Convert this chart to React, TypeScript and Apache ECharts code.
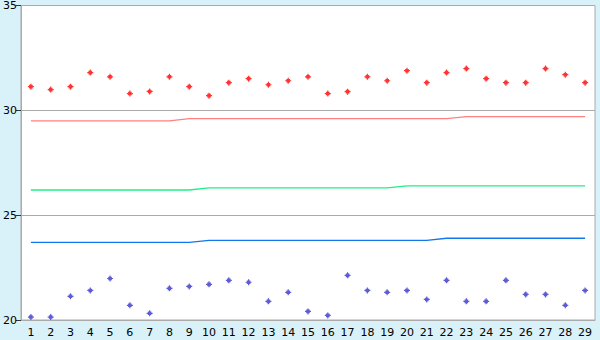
import React, { useEffect, useRef } from "react";
import * as echarts from "echarts";

const categories = ["1","2","3","4","5","6","7","8","9","10","11","12","13","14","15","16","17","18","19","20","21","22","23","24","25","26","27","28","29"];

const redPoints = [31.13, 30.99, 31.13, 31.8, 31.6, 30.8, 30.9, 31.6, 31.13, 30.7, 31.32, 31.51, 31.22, 31.41, 31.6, 30.8, 30.89, 31.6, 31.41, 31.89, 31.32, 31.8, 31.99, 31.51, 31.32, 31.32, 31.99, 31.7, 31.32];
const bluePoints = [20.14, 20.14, 21.13, 21.41, 21.98, 20.7, 20.32, 21.51, 21.6, 21.7, 21.89, 21.8, 20.89, 21.32, 20.41, 20.22, 22.13, 21.41, 21.32, 21.41, 20.98, 21.89, 20.89, 20.89, 21.89, 21.22, 21.22, 20.7, 21.41];

const redLine = [29.5, 29.5, 29.5, 29.5, 29.5, 29.5, 29.5, 29.5, 29.6, 29.6, 29.6, 29.6, 29.6, 29.6, 29.6, 29.6, 29.6, 29.6, 29.6, 29.6, 29.6, 29.6, 29.7, 29.7, 29.7, 29.7, 29.7, 29.7, 29.7];
const greenLine = [26.2, 26.2, 26.2, 26.2, 26.2, 26.2, 26.2, 26.2, 26.2, 26.3, 26.3, 26.3, 26.3, 26.3, 26.3, 26.3, 26.3, 26.3, 26.3, 26.4, 26.4, 26.4, 26.4, 26.4, 26.4, 26.4, 26.4, 26.4, 26.4];
const blueLine = [23.7, 23.7, 23.7, 23.7, 23.7, 23.7, 23.7, 23.7, 23.7, 23.8, 23.8, 23.8, 23.8, 23.8, 23.8, 23.8, 23.8, 23.8, 23.8, 23.8, 23.8, 23.9, 23.9, 23.9, 23.9, 23.9, 23.9, 23.9, 23.9];

const yMin = 20;
const yMax = 35;
const yInterval = 5;

const marker = "path://M2,0H3V1H4V2H5V3H4V4H3V5H2V4H1V3H0V2H1V1H2Z";

export default function App() {
  const ref = useRef<HTMLDivElement>(null);
  useEffect(() => {
    if (!ref.current) return;
    const chart = echarts.init(ref.current, undefined, { renderer: "svg" });
    const font = "DejaVu Sans";
    chart.setOption({
      animation: false,
      backgroundColor: "#d9f1f8",
      grid: {
        left: 20,
        right: 5,
        top: 5,
        bottom: 20,
        show: true,
        backgroundColor: "#ffffff",
        borderColor: "#aaaaaa",
        borderWidth: 1,
      },
      xAxis: {
        type: "category",
        data: categories,
        boundaryGap: true,
        axisLine: { lineStyle: { color: "#aaaaaa", width: 1 } },
        axisTick: { alignWithLabel: true, length: 5, lineStyle: { color: "#333333" } },
        axisLabel: { color: "#000000", fontSize: 11, fontFamily: font, margin: 7, interval: 0 },
        splitLine: { show: false },
      },
      yAxis: {
        type: "value",
        min: yMin,
        max: yMax,
        interval: yInterval,
        axisLine: { show: true, lineStyle: { color: "#aaaaaa", width: 1 } },
        axisTick: { show: true, length: 5, lineStyle: { color: "#333333" } },
        axisLabel: { color: "#000000", fontSize: 11, fontFamily: font, margin: 4 },
        splitLine: { show: true, lineStyle: { color: "#aaaaaa", width: 1 } },
      },
      series: [
        {
          type: "line",
          data: redLine,
          showSymbol: false,
          lineStyle: { color: "#ff8080", width: 1.3 },
          itemStyle: { color: "#ff8080" },
          z: 2,
        },
        {
          type: "line",
          data: greenLine,
          showSymbol: false,
          lineStyle: { color: "#22ee88", width: 1.3 },
          itemStyle: { color: "#22ee88" },
          z: 2,
        },
        {
          type: "line",
          data: blueLine,
          showSymbol: false,
          lineStyle: { color: "#1177ee", width: 1.3 },
          itemStyle: { color: "#1177ee" },
          z: 2,
        },
        {
          type: "scatter",
          data: redPoints,
          symbol: marker,
          symbolSize: 6,
          itemStyle: { color: "#ff0000" },
          z: 3,
        },
        {
          type: "scatter",
          data: bluePoints,
          symbol: marker,
          symbolSize: 6,
          itemStyle: { color: "#3333cc" },
          z: 3,
        },
      ],
    });
    return () => chart.dispose();
  }, []);
  return (
    <div
      ref={ref}
      style={{ position: "fixed", left: 0, top: 0, width: 600, height: 340 }}
    />
  );
}
